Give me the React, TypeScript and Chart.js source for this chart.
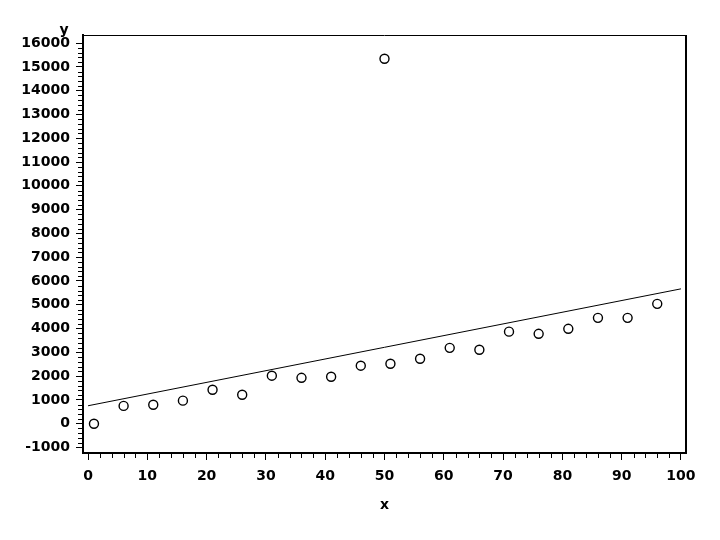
import React, { useEffect, useRef } from "react";
import { Chart, registerables } from "chart.js";

Chart.register(...registerables);

const xValues = [1, 6, 11, 16, 21, 26, 31, 36, 41, 46, 50, 51, 56, 61, 66, 71, 76, 81, 86, 91, 96];
const yValues = [0, 750, 800, 970, 1430, 1220, 2020, 1930, 1975, 2440, 15340, 2520, 2730, 3190, 3110, 3870, 3780, 3990, 4450, 4450, 5040];
const fitX = [0, 100];
const fitY = [756, 5670];
const xTicks = [0, 10, 20, 30, 40, 50, 60, 70, 80, 90, 100];
const yTicks = [-1000, 0, 1000, 2000, 3000, 4000, 5000, 6000, 7000, 8000, 9000, 10000, 11000, 12000, 13000, 14000, 15000, 16000];
const xMinorStep = 2;
const yMinorStep = 200;

const FONT = '"DejaVu Sans", "Liberation Sans", sans-serif';

const framePlugin = {
  id: "frame",
  afterDraw(chart: any) {
    const { ctx, chartArea, scales } = chart;
    const { left, right, top, bottom } = chartArea;
    const x = scales.x;
    const y = scales.y;
    ctx.save();
    ctx.strokeStyle = "#000";
    ctx.lineWidth = 1;
    ctx.beginPath();
    ctx.moveTo(left, top + 0.5);
    ctx.lineTo(right, top + 0.5);
    ctx.stroke();
    ctx.lineWidth = 2;
    ctx.beginPath();
    ctx.moveTo(right, top);
    ctx.lineTo(right, bottom + 1);
    ctx.stroke();
    ctx.lineWidth = 1;
    ctx.beginPath();
    const y0 = yTicks[0];
    const y1 = yTicks[yTicks.length - 1];
    for (let v = y0; v <= y1; v += yMinorStep) {
      if (v % 1000 === 0) continue;
      const py = Math.round(y.getPixelForValue(v)) + 0.5;
      ctx.moveTo(left - 5, py);
      ctx.lineTo(left, py);
    }
    const x0 = xTicks[0];
    const x1 = xTicks[xTicks.length - 1];
    for (let v = x0; v <= x1; v += xMinorStep) {
      if (v % 10 === 0) continue;
      const px = Math.round(x.getPixelForValue(v)) + 0.5;
      ctx.moveTo(px, bottom);
      ctx.lineTo(px, bottom + 5);
    }
    ctx.stroke();
    ctx.fillStyle = "#000";
    ctx.font = `bold 14px ${FONT}`;
    ctx.textAlign = "center";
    ctx.textBaseline = "middle";
    ctx.fillText("y", left - 19, top - 5);
    ctx.restore();
  },
};

export default function App() {
  const ref = useRef<HTMLCanvasElement | null>(null);
  useEffect(() => {
    if (!ref.current) return;
    const chart = new Chart(ref.current, {
      type: "scatter",
      data: {
        datasets: [
          {
            label: "fit",
            data: fitX.map((v, i) => ({ x: v, y: fitY[i] })),
            showLine: true,
            borderColor: "#000",
            borderWidth: 1,
            pointRadius: 0,
            fill: false,
          },
          {
            label: "y",
            data: xValues.map((v, i) => ({ x: v, y: yValues[i] })),
            showLine: false,
            pointStyle: "circle",
            pointRadius: 4.5,
            pointBorderWidth: 1.4,
            pointBorderColor: "#000",
            pointBackgroundColor: "#fff",
          },
        ],
      },
      options: {
        animation: false,
        responsive: true,
        maintainAspectRatio: false,
        layout: { padding: { top: 35, right: 34, left: 0, bottom: 0 } },
        plugins: { legend: { display: false }, tooltip: { enabled: false } },
        scales: {
          x: {
            type: "linear",
            min: -0.85,
            max: 100.85,
            afterBuildTicks: (s: any) => {
              s.ticks = xTicks.map((v) => ({ value: v }));
            },
            afterFit: (s: any) => {
              s.height = 87;
            },
            grid: { drawOnChartArea: false, drawTicks: true, tickLength: 7, color: "#000", lineWidth: 1 },
            border: { display: true, color: "#000", width: 2 },
            ticks: {
              color: "#000",
              padding: 8,
              maxRotation: 0,
              autoSkip: false,
              callback: (v: any) => String(v),
              font: { family: FONT, size: 14, weight: "bold" },
            },
            title: {
              display: true,
              text: "x",
              color: "#000",
              font: { family: FONT, size: 14, weight: "bold" },
              padding: { top: 0, bottom: 26 },
            },
          },
          y: {
            type: "linear",
            min: -1230,
            max: 16340,
            afterBuildTicks: (s: any) => {
              s.ticks = yTicks.map((v) => ({ value: v }));
            },
            afterFit: (s: any) => {
              s.width = 83;
            },
            grid: { drawOnChartArea: false, drawTicks: true, tickLength: 7, color: "#000", lineWidth: 1 },
            border: { display: true, color: "#000", width: 2 },
            ticks: {
              color: "#000",
              padding: 6,
              autoSkip: false,
              callback: (v: any) => String(v),
              font: { family: FONT, size: 14, weight: "bold" },
            },
          },
        },
      },
      plugins: [framePlugin],
    });
    return () => chart.destroy();
  }, []);
  return (
    <div style={{ position: "absolute", left: 0, top: 0, width: 720, height: 540, background: "#fff" }}>
      <canvas ref={ref} />
    </div>
  );
}
